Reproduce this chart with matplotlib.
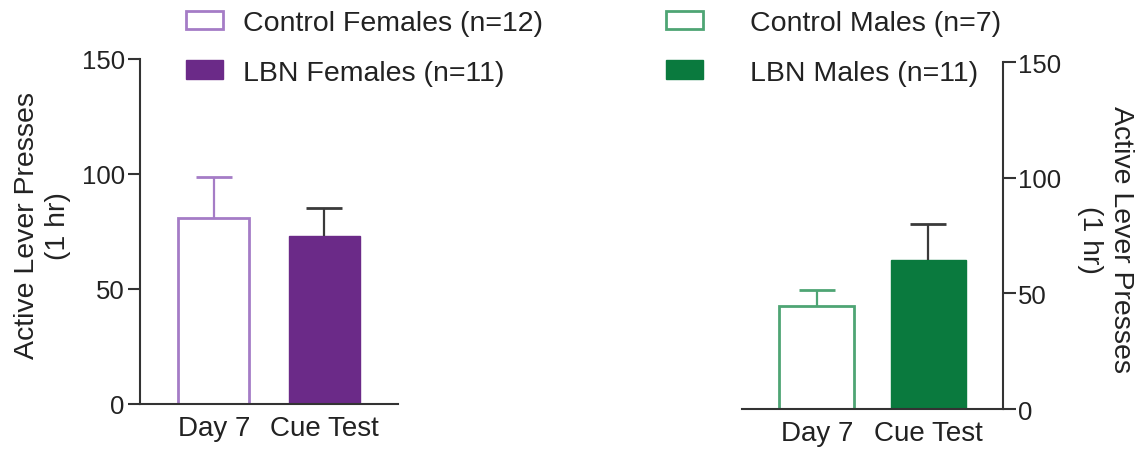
import matplotlib
matplotlib.use("Agg")
import matplotlib.pyplot as plt
import matplotlib.patches as mpatches

plt.rcParams['font.family'] = ['Liberation Sans', 'DejaVu Sans']

# group means and SEM (one bar per session)
sessions = ['Day 7', 'Cue Test']
female_mean = [81, 73]
female_sem = [17.5, 12.2]
male_mean = [44.5, 64.5]
male_sem = [7.0, 15.5]
female_labels = ['Control Females (n=12)', 'LBN Females (n=11)']
male_labels = ['Control Males (n=7)', 'LBN Males (n=11)']
yticks = [0, 50, 100, 150]
ylabel = 'Active Lever Presses\n(1 hr)'

purple = '#6b2a88'
purple_light = '#a57cc6'
green = '#0a7a3e'
green_light = '#4ea574'
ink = '#222222'
axis_col = '#333333'

fig = plt.figure(figsize=(11.47, 4.52), dpi=100)
axL = fig.add_axes([0.1221, 0.104, 0.2249, 0.7633])
axR = fig.add_axes([0.6469, 0.0929, 0.2276, 0.7677])


def draw_panel(ax, means, sems, fill, edge, width, side):
    x = range(len(sessions))
    ax.bar(x[0], means[0], width=width, color='white', edgecolor=edge, linewidth=2)
    ax.bar(x[1], means[1], width=width, color=fill, edgecolor=fill, linewidth=1)
    err_cols = [edge, '#3a3a3a']
    for xi, m, s, c in zip(x, means, sems, err_cols):
        eb = ax.errorbar(xi, m, yerr=[[0], [s]], color=c, capsize=13, capthick=2,
                         elinewidth=1.6, fmt='none', zorder=3)
        # upper-only error bar: hide the cap sitting on the bar top
        eb[1][0].set_visible(False)
    ax.set_xlim(-0.67, 1.67)
    ax.set_ylim(0, 150)
    ax.set_yticks(yticks)
    ax.set_xticks(list(x))
    ax.set_xticklabels(sessions, fontsize=20, color=ink)
    ax.tick_params(axis='x', length=0, pad=8)
    ax.tick_params(axis='y', length=9, width=1.5, color=axis_col,
                   labelsize=18.5, labelcolor=ink, pad=2)
    ax.spines['top'].set_visible(False)
    for sp in ['left', 'right', 'bottom']:
        ax.spines[sp].set_linewidth(1.5)
        ax.spines[sp].set_color(axis_col)
    if side == 'left':
        ax.spines['right'].set_visible(False)
        ax.set_ylabel(ylabel, fontsize=20.5, color=ink, va='center', ha='center',
                      linespacing=1.25)
        ax.yaxis.set_label_coords(-0.38, 0.52)
    else:
        ax.spines['left'].set_visible(False)
        ax.yaxis.tick_right()
        ax.yaxis.set_label_position('right')
        ax.set_ylabel(ylabel, fontsize=20.5, color=ink, rotation=270,
                      va='center', ha='center', linespacing=1.25)
        ax.yaxis.set_label_coords(1.391, 0.49)


draw_panel(axL, female_mean, female_sem, purple, purple_light, 0.643, 'left')
draw_panel(axR, male_mean, male_sem, green, green_light, 0.67, 'right')


def add_legend(labels, fill, edge, x0, textpad):
    handles = [mpatches.Patch(facecolor='white', edgecolor=edge, linewidth=2),
               mpatches.Patch(facecolor=fill, edgecolor=fill)]
    leg = fig.legend(handles, labels, loc='upper left',
                     bbox_to_anchor=(x0 / 1147, 1 - 11 / 452), frameon=False,
                     fontsize=20.5, handlelength=1.3, handleheight=0.62,
                     handletextpad=textpad, labelspacing=0.83, borderpad=0,
                     borderaxespad=0)
    for t in leg.get_texts():
        t.set_color(ink)


add_legend(female_labels, purple, purple_light, 186, 0.7)
add_legend(male_labels, green, green_light, 666, 1.65)

fig.savefig('out.png', dpi=100, facecolor='white')
